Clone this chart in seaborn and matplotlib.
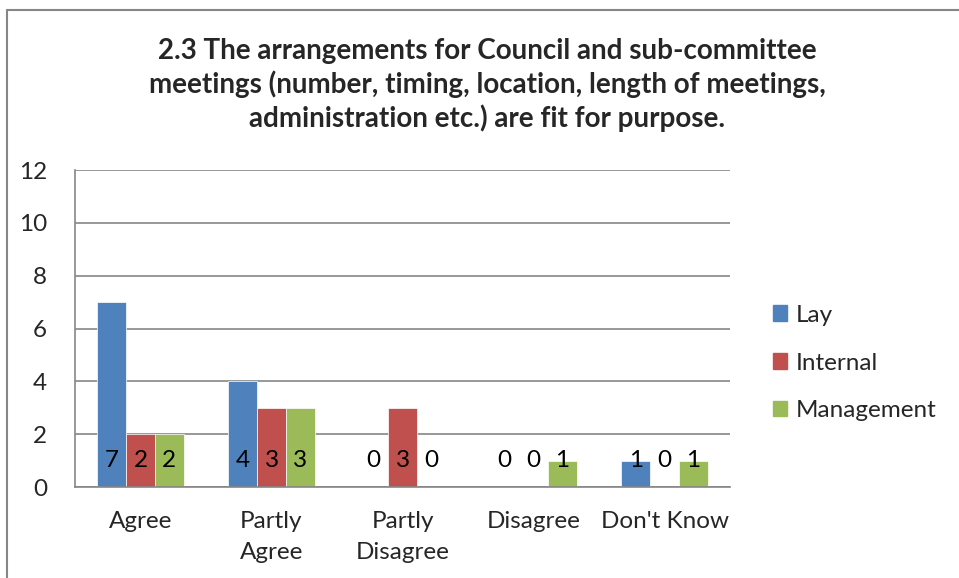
import matplotlib
matplotlib.use("Agg")
import matplotlib.pyplot as plt
import seaborn as sns
import pandas as pd
from matplotlib.lines import Line2D

categories = ["Agree", "Partly\nAgree", "Partly\nDisagree", "Disagree", "Don't Know"]
series = ["Lay", "Internal", "Management"]
lay = [7, 4, 0, 0, 1]
internal = [2, 3, 3, 0, 0]
management = [2, 3, 0, 1, 1]
colors = ["#4F81BD", "#C0504D", "#9BBB59"]
title = ("2.3 The arrangements for Council and sub-committee\n"
         "meetings (number, timing, location, length of meetings,\n"
         "administration etc.) are fit for purpose.")

rows = []
for s, vals in zip(series, [lay, internal, management]):
    for c, v in zip(categories, vals):
        rows.append({"Category": c, "Series": s, "Value": v})
df = pd.DataFrame(rows)

sns.set_style("white")
plt.rcParams["font.family"] = ["Lato", "DejaVu Sans"]

fig = plt.figure(figsize=(9.59, 5.78), dpi=100)
ax = fig.add_axes([75/959, 1-487/578, (730-75)/959, (487-170)/578])

sns.barplot(data=df, x="Category", y="Value", hue="Series", order=categories,
            hue_order=series, palette=colors, width=0.66, ax=ax,
            saturation=1, errorbar=None, edgecolor="white", linewidth=0.5)

gray = "#868686"
fs = 17.5
ax.set_ylim(0, 12)
ax.set_xlim(-0.5, 4.5)
ax.set_yticks(range(0, 13, 2))
ax.yaxis.grid(True, color=gray, linewidth=1.2)
ax.set_axisbelow(True)
for sp in ["top", "right"]:
    ax.spines[sp].set_visible(False)
for sp in ["left", "bottom"]:
    ax.spines[sp].set_color(gray)
    ax.spines[sp].set_linewidth(1.2)

ax.set_xticks([i - 0.5 for i in range(6)])
ax.set_xticklabels([])
ax.set_xticks(range(5), minor=True)
ax.set_xticklabels(categories, minor=True, fontsize=fs, linespacing=1.6)
ax.tick_params(axis="x", which="major", length=8, color=gray, width=1.2)
ax.tick_params(axis="x", which="minor", length=0, pad=17)
ax.tick_params(axis="y", length=7, color=gray, width=1.2, labelsize=fs, pad=13)
ax.set_xlabel("")
ax.set_ylabel("")

for cont, vals in zip(ax.containers, [lay, internal, management]):
    for patch, v in zip(cont.patches, vals):
        x = patch.get_x() + patch.get_width() / 2
        ax.text(x, 1.0, str(v), ha="center", va="center", fontsize=fs, color="black")

leg = ax.get_legend()
if leg is not None:
    leg.remove()
handles = [plt.Rectangle((0, 0), 1, 1, color=c) for c in colors]
fig.legend(handles, series, loc="center left", bbox_to_anchor=(0.783, 1-363/578),
           frameon=False, fontsize=fs, handlelength=0.6, handleheight=0.6,
           handletextpad=0.35, labelspacing=1.1)

fig.text(487/959, 1-85/578, title, ha="center", va="center", fontsize=20,
         fontweight="bold", linespacing=1.3)

fig.add_artist(Line2D([7/959, 7/959], [0, 1-10/578], color=gray, lw=1.5,
                      transform=fig.transFigure))
fig.add_artist(Line2D([7/959, 1], [1-10/578, 1-10/578], color=gray, lw=1.5,
                      transform=fig.transFigure))

fig.savefig("out.png", dpi=100)
